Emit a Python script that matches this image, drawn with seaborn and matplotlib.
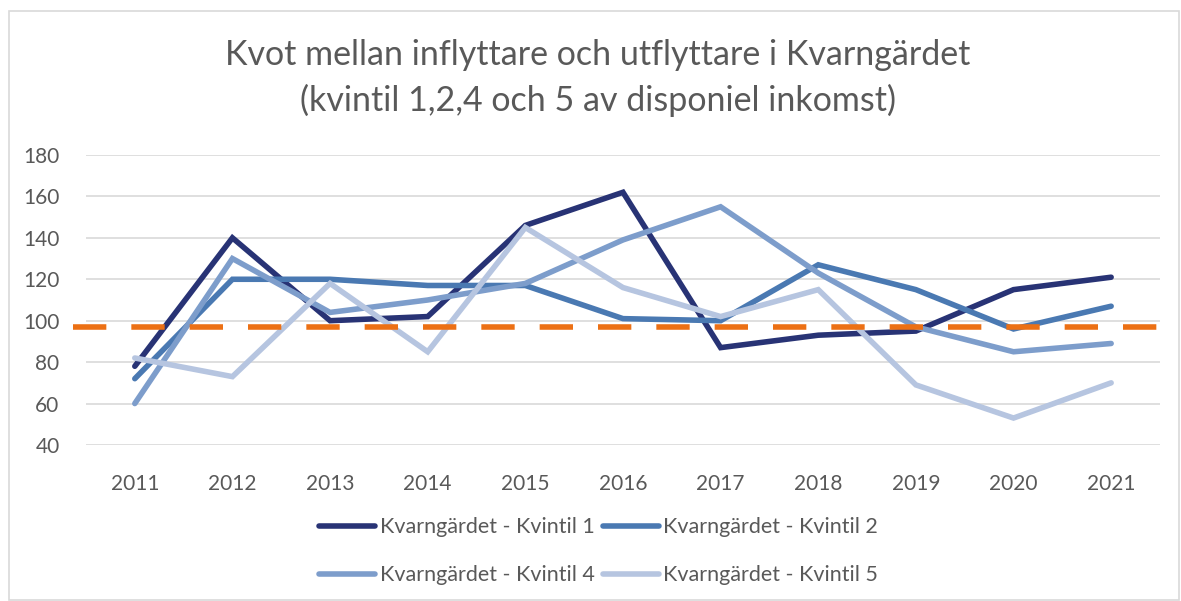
import pandas as pd
import numpy as np
import matplotlib.pyplot as plt
import seaborn as sns

# values
years = [2011, 2012, 2013, 2014, 2015, 2016, 2017, 2018, 2019, 2020, 2021]
kvintil_1 = [78, 140, 100, 102, 146, 162, 87, 93, 95, 115, 121]
kvintil_2 = [72, 120, 120, 117, 117, 101, 100, 127, 115, 96, 107]
kvintil_4 = [60, 130, 104, 110, 118, 139, 155, 123, 97, 85, 89]
kvintil_5 = [82, 73, 118, 85, 145, 116, 102, 115, 69, 53, 70]
ref_level = 97

names = ['Kvarngärdet - Kvintil 1', 'Kvarngärdet - Kvintil 2',
         'Kvarngärdet - Kvintil 4', 'Kvarngärdet - Kvintil 5']
colors = ['#283375', '#4a79b2', '#7d9dcb', '#b6c5e0']

df = pd.DataFrame({
    'year': years * 4,
    'value': kvintil_1 + kvintil_2 + kvintil_4 + kvintil_5,
    'serie': sum([[n] * len(years) for n in names], []),
})

sns.set_style('white')
plt.rcParams['font.family'] = ['Lato', 'DejaVu Sans']

fig = plt.figure(figsize=(11.81, 6.01), dpi=100)
ax = fig.add_axes([0.0728, 0.2596, 0.9094, 0.4825])

sns.lineplot(data=df, x='year', y='value', hue='serie', palette=dict(zip(names, colors)),
             linewidth=4, ax=ax, legend=True)
for ln in ax.get_lines():
    ln.set_solid_capstyle('round')
    ln.set_solid_joinstyle('miter')

ax.axhline(ref_level, xmin=-0.012, xmax=1.02, clip_on=False, color='#ec7014',
           linewidth=4, linestyle=(0, (6, 4.5)), dash_capstyle='butt', zorder=5)

ax.set_xlim(2010.5, 2021.5)
ax.set_ylim(40, 180)
ax.set_yticks(range(40, 181, 20))
ax.set_xticks(years)
ax.grid(axis='y', color='#d9d9d9', linewidth=1.2)
ax.set_axisbelow(True)
for s in ax.spines.values():
    s.set_visible(False)
ax.tick_params(axis='both', labelsize=15, colors='#595959', length=0)
ax.tick_params(axis='x', pad=21)
ax.tick_params(axis='y', pad=19)
ax.set_xlabel('')
ax.set_ylabel('')

fig.text(0.506, 0.908, 'Kvot mellan inflyttare och utflyttare i Kvarngärdet',
         ha='center', va='center', fontsize=24.5, color='#595959')
fig.text(0.506, 0.833, '(kvintil 1,2,4 och 5 av disponiel inkomst)',
         ha='center', va='center', fontsize=24.5, color='#595959')

# legend fills column-wise, so reorder to get K1 K2 / K4 K5 in rows
handles, labels = ax.get_legend_handles_labels()
order = [0, 2, 1, 3]
ax.legend([handles[i] for i in order], [labels[i] for i in order],
          loc='center', bbox_to_anchor=(0.4775, -0.366), ncol=2,
          frameon=False, fontsize=15.5, labelcolor='#595959', handlelength=2.6,
          handletextpad=0.2, columnspacing=0.4, labelspacing=1.3)

fig.patches.append(plt.Rectangle((0.008, 0.002), 0.99, 0.98, transform=fig.transFigure,
                                 fill=False, edgecolor='#d9d9d9', linewidth=1.2))

fig.savefig('out.png', dpi=100)
